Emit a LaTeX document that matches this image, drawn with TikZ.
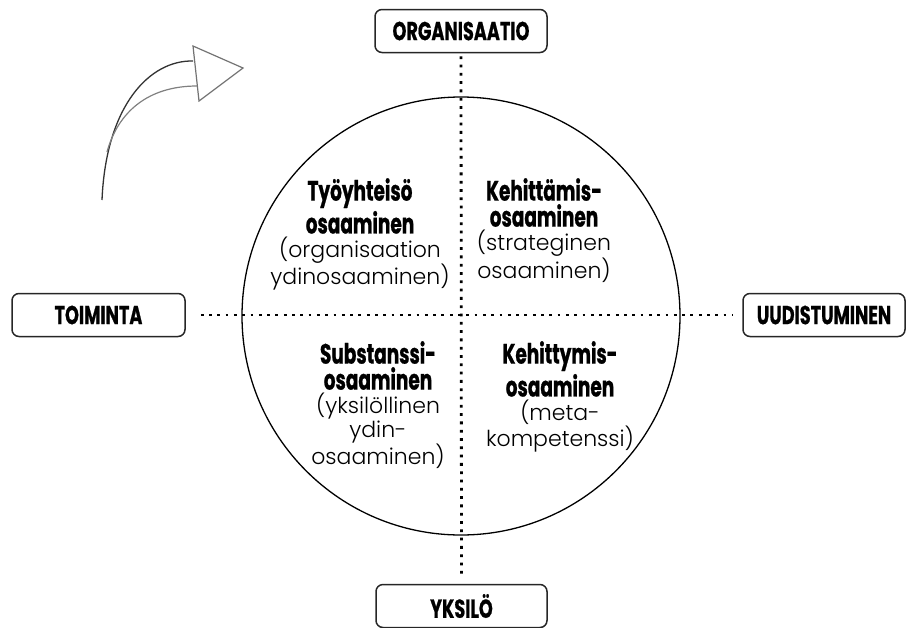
\documentclass[tikz,border=0pt]{standalone}
\usepackage{fontspec}
\setmainfont{Poppins}
\newfontfamily\labelfont{Poppins Bold}[FakeStretch=0.68, FakeBold=0.6]
\newfontfamily\headfont{Poppins Bold}[FakeStretch=0.66, FakeBold=0.8]
\newfontfamily\lightfont{Poppins Light}
\begin{document}
\begin{tikzpicture}[x=1pt,y=-1pt,
  axisbox/.style={draw=black!85, line width=1.5pt, rounded corners=7pt, fill=white,
    minimum height=43pt, inner sep=0pt,
    font=\labelfont\fontsize{26}{28}\selectfont},
  dotline/.style={line width=2.8pt, dash pattern=on 2.8pt off 5.5pt},
  quadtext/.style={align=center, anchor=north, inner sep=0pt,
    font=\lightfont\fontsize{22}{24}\selectfont}
]
\useasboundingbox (0,0) rectangle (907,627);

% axis end boxes
\node[axisbox, minimum width=172pt] (org) at (461,31) {ORGANISAATIO};
\node[axisbox, minimum width=173pt] (toim) at (98.5,315) {TOIMINTA};
\node[axisbox, minimum width=162pt] (uud) at (824,315) {UUDISTUMINEN};
\node[axisbox, minimum width=171pt] (yks) at (461.5,606) {YKSIL\"O};

% central circle
\node[draw, circle, line width=1.3pt, minimum size=438pt, inner sep=0pt] (c) at (461,316) {};

% dotted axes
\draw[dotline, shorten <=15pt, shorten >=10pt] (toim.east) -- (uud.west);
\draw[dotline, shorten <=3pt, shorten >=6pt] (org.south) -- (yks.north);

% quadrant texts: two bold heading lines, then the lighter explanation
\newcommand\hdline[1]{{\headfont\fontsize{28}{28}\selectfont #1}}
\node[quadtext] (q1) at (360,178)
  {\hdline{Työyhteisö}\\[2pt]\hdline{osaaminen}\\(organisaation\\ydinosaaminen)};
\node[quadtext] (q2) at (544,178)
  {\hdline{Kehittämis-}\\[2pt]\hdline{osaaminen}\\(strateginen\\osaaminen)};
\node[quadtext] (q3) at (378,341)
  {\hdline{Substanssi-}\\[2pt]\hdline{osaaminen}\\(yksilöllinen\\ydin-\\osaaminen)};
\node[quadtext] (q4) at (560,341)
  {\hdline{Kehittymis-}\\[2pt]\hdline{osaaminen}\\(meta-\\kompetenssi)};

% curved arrow
\coordinate (a0) at (102,200);
\coordinate (a1) at (193,61);
\coordinate (b0) at (107,152);
\coordinate (b1) at (197,86);
\draw[black!80, line width=1.3pt] (a0) .. controls (106,105) and (150,60) .. (a1);
\draw[black!50, line width=1.2pt] (b0) .. controls (118,112) and (148,86) .. (b1);
\draw[black!55, line width=1.2pt, fill=white, line join=miter]
  (193,46) -- (243,68) -- (199,101) -- cycle;
\end{tikzpicture}
\end{document}
